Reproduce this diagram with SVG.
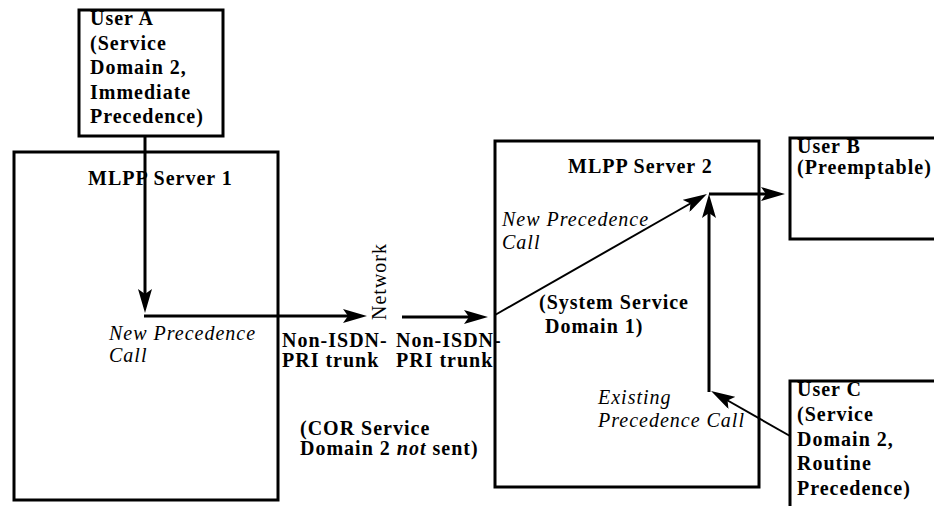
<svg xmlns="http://www.w3.org/2000/svg" width="934" height="506" viewBox="0 0 934 506">
<defs>
<style>
.box{fill:none;stroke:#000;stroke-width:3}
.t{font-family:'Liberation Serif','Times New Roman',serif;font-size:20px;fill:#000;letter-spacing:1px}
.b{font-weight:bold}
.i{font-style:italic}
.thick{fill:none;stroke:#000;stroke-width:3}
.thin{fill:none;stroke:#000;stroke-width:2}
</style>
<marker id="ah" markerUnits="userSpaceOnUse" viewBox="0 0 24 14" markerWidth="24" markerHeight="14" refX="16" refY="7" orient="auto">
<path d="M0,0 L24,7 L0,14 L5,7 z" fill="#000"/>
</marker>
</defs>
<rect width="934" height="506" fill="#fff"/>

<g id="server1">
<text class="t b" x="88" y="185">MLPP Server 1</text>
<text class="t i" x="109" y="340">New Precedence</text>
<text class="t i" x="109" y="362">Call</text>
<rect class="box" x="14" y="152" width="264" height="348"/>
</g>

<g id="userA">
<rect x="79" y="10" width="144" height="126" fill="#fff"/>
<text class="t b" x="90" y="25">User A</text>
<text class="t b" x="90" y="49.5">(Service</text>
<text class="t b" x="90" y="74">Domain 2,</text>
<text class="t b" x="90" y="98.5">Immediate</text>
<text class="t b" x="90" y="123">Precedence)</text>
<rect class="box" x="79" y="10" width="144" height="126"/>
</g>

<g id="network">
<text class="t" transform="translate(386,320) rotate(-90)">Network</text>
<text class="t b" x="282" y="347">Non-ISDN-</text>
<text class="t b" x="282" y="367">PRI trunk</text>
<text class="t b" x="396" y="347">Non-ISDN-</text>
<text class="t b" x="396" y="367">PRI trunk</text>
<text class="t b" x="300" y="435">(COR Service</text>
<text class="t b" x="300" y="455">Domain 2 <tspan class="i">not</tspan> sent)</text>
</g>

<g id="server2">
<text class="t b" x="568" y="173">MLPP Server 2</text>
<text class="t i" x="502" y="226">New Precedence</text>
<text class="t i" x="502" y="249">Call</text>
<text class="t b" x="539" y="309">(System Service</text>
<text class="t b" x="545" y="333">Domain 1)</text>
<text class="t i" x="598" y="404">Existing</text>
<text class="t i" x="598" y="427">Precedence Call</text>
<rect class="box" x="495" y="141" width="264" height="346"/>
</g>

<g id="userB">
<text class="t b" x="797" y="153">User B</text>
<text class="t b" x="797" y="174">(Preemptable)</text>
<rect class="box" x="790" y="138" width="160" height="101"/>
</g>

<g id="userC">
<text class="t b" x="797" y="396">User C</text>
<text class="t b" x="797" y="421">(Service</text>
<text class="t b" x="797" y="446">Domain 2,</text>
<text class="t b" x="797" y="470">Routine</text>
<text class="t b" x="797" y="495">Precedence)</text>
<rect class="box" x="790" y="381" width="160" height="140"/>
</g>

<g id="connectors">
<line class="thick" x1="145" y1="136" x2="145" y2="305" marker-end="url(#ah)"/>
<line class="thick" x1="144" y1="316" x2="359" y2="316" marker-end="url(#ah)"/>
<line class="thick" x1="402" y1="317" x2="480" y2="317" marker-end="url(#ah)"/>
<line class="thin" x1="495" y1="315" x2="700" y2="198" marker-end="url(#ah)"/>
<line class="thick" x1="709" y1="194" x2="777" y2="194" marker-end="url(#ah)"/>
<line class="thick" x1="709" y1="392" x2="709" y2="202" marker-end="url(#ah)"/>
<line class="thin" x1="790" y1="436" x2="718" y2="395" marker-end="url(#ah)"/>
</g>
</svg>
